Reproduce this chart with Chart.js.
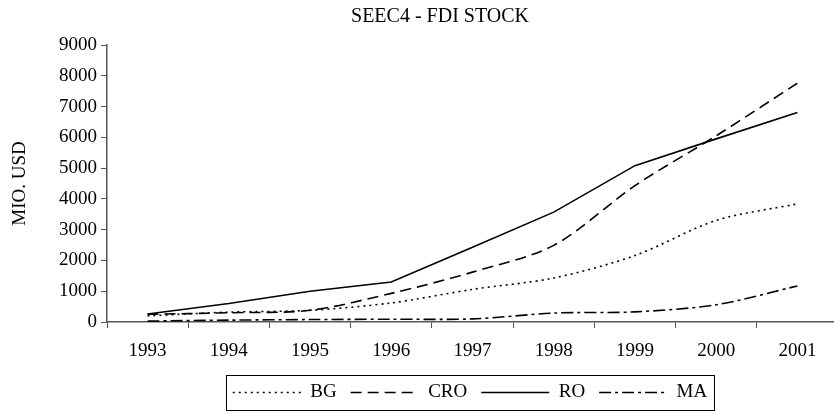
<!DOCTYPE html>
<html>
<head>
<meta charset="utf-8">
<script src="https://cdn.jsdelivr.net/npm/chart.js@4/dist/chart.umd.min.js"></script>
<style>
  body { margin: 0; background: #fff; overflow: hidden; }
  #wrap { width: 834px; height: 414px; overflow: hidden; }
</style>
</head>
<body>
<div id="wrap"><canvas id="mychart" width="840" height="414"></canvas></div>
<script>
// values (MIO. USD)
let years = ['1993', '1994', '1995', '1996', '1997', '1998', '1999', '2000', '2001'];
let bg  = [200, 320, 380, 620, 1060, 1430, 2160, 3300, 3840];
let cro = [250, 300, 380, 930, 1620, 2490, 4430, 6050, 7760];
let ro  = [260, 600, 1000, 1300, 2430, 3570, 5080, 5950, 6810];
let ma  = [30, 60, 80, 90, 100, 290, 330, 560, 1170];

let serif = '"Liberation Serif", "Times New Roman", serif';
let ctx = document.getElementById('mychart').getContext('2d');

// title drawn by hand so it sits where the original one is
let titlePlugin = {
  id: 'titleText',
  afterDraw(chart) {
    let c = chart.ctx;
    c.save();
    c.fillStyle = '#000';
    c.font = '20px ' + serif;
    c.textAlign = 'center';
    c.textBaseline = 'middle';
    c.fillText('SEEC4 - FDI STOCK', 440, 17);
    c.restore();
  }
};

// legend sits under the plot, not the whole canvas, and gets a frame
let legendBox = {
  id: 'legendBox',
  afterLayout(chart) {
    let lg = chart.legend;
    let dx = 470 - (lg.left + lg.right) / 2;
    lg.left += dx;
    lg.right += dx;
  },
  afterDraw(chart) {
    let boxes = chart.legend.legendHitBoxes;
    if (!boxes || !boxes.length) return;
    let l = Math.min(...boxes.map(b => b.left));
    let r = Math.max(...boxes.map(b => b.left + b.width));
    let t = Math.min(...boxes.map(b => b.top));
    let btm = Math.max(...boxes.map(b => b.top + b.height));
    let c = chart.ctx;
    c.save();
    c.strokeStyle = '#000';
    c.lineWidth = 1;
    c.strokeRect(Math.round(l - 7) + 0.5, Math.round(t - 8) + 0.5, Math.round(r - l + 14), Math.round(btm - t + 16));
    c.restore();
  }
};

function line(label, data, dash, tension) {
  return {
    label: label,
    data: data,
    borderColor: '#000',
    backgroundColor: '#000',
    borderWidth: 1.6,
    borderDash: dash,
    pointRadius: 0,
    pointStyle: 'line',
    tension: tension,
    fill: false
  };
}

let obj = new Chart(ctx, {
  type: 'line',
  data: {
    labels: years,
    datasets: [
      line('BG', bg, [2, 4], 0.3),
      line('CRO', cro, [11, 6], 0.3),
      line('RO', ro, [], 0),
      line('MA', ma, [12, 4, 3, 4], 0.3)
    ]
  },
  options: {
    responsive: false,
    animation: false,
    layout: { padding: { top: 45, right: 2, left: 0, bottom: 2 } },
    plugins: {
      title: { display: false },
      tooltip: { enabled: false },
      legend: {
        position: 'bottom',
        labels: {
          usePointStyle: true,
          pointStyleWidth: 68,
          padding: 14,
          color: '#000',
          font: { family: serif, size: 19 },
          generateLabels(chart) {
            let items = Chart.defaults.plugins.legend.labels.generateLabels(chart);
            items.forEach((it, i) => {
              it.lineDash = chart.data.datasets[i].borderDash;
              it.lineWidth = 1.4;
              it.pointStyle = 'line';
            });
            return items;
          }
        }
      }
    },
    scales: {
      x: {
        offset: true,
        grid: { display: true, drawOnChartArea: false, tickLength: 6, color: '#555', offset: true },
        border: { color: '#555', width: 1.5 },
        ticks: { color: '#000', padding: 12, font: { family: serif, size: 19 } },
        afterFit(scale) { scale.height = 47; }
      },
      y: {
        min: 0,
        max: 9000,
        ticks: {
          stepSize: 1000,
          color: '#000',
          padding: 4,
          font: { family: serif, size: 19 },
          callback: v => String(v)
        },
        grid: { display: true, drawOnChartArea: false, tickLength: 6, color: '#555' },
        border: { color: '#555', width: 1.5 },
        title: {
          display: true,
          text: 'MIO. USD',
          color: '#000',
          padding: { top: 9, bottom: 0 },
          font: { family: serif, size: 19 }
        },
        afterFit(scale) { scale.width = 107; }
      }
    }
  },
  plugins: [titlePlugin, legendBox]
});
</script>
</body>
</html>
